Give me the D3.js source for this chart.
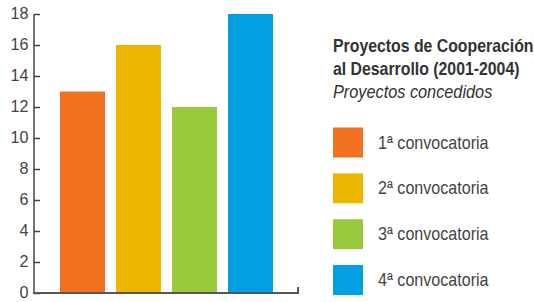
<!DOCTYPE html>
<html><head><meta charset="utf-8">
<script src="https://cdn.jsdelivr.net/npm/d3@7"></script>
<style>
body{margin:0;background:#fff;}
svg{display:block;font-family:"Liberation Sans",Arial,sans-serif;}
</style></head>
<body><svg id="c" width="534" height="302"></svg>
<script>
const categories = ["1ª convocatoria","2ª convocatoria","3ª convocatoria","4ª convocatoria"];
const values = [13,16,12,18];
const colors = ["#F37021","#EBB700","#9ACA3C","#00A0E3"];
const yTicks = [0,2,4,6,8,10,12,14,16,18];
const titleLines = ["Proyectos de Cooperación","al Desarrollo (2001-2004)"];
const subtitle = "Proyectos concedidos";

const svg = d3.select("#c");
const y = d3.scaleLinear().domain([0,18]).range([293,14]);
const x = d3.scaleBand().domain(categories).range([54.5,278.5]).paddingInner(11/56).paddingOuter(11/112);

svg.selectAll("rect.bar").data(values).join("rect")
  .attr("class","bar")
  .attr("x",(d,i)=>x(categories[i]))
  .attr("width",x.bandwidth())
  .attr("y",d=>y(d))
  .attr("height",d=>y(0)-y(d))
  .attr("fill",(d,i)=>colors[i]);

// y axis
const yAxis = svg.append("g").attr("transform","translate(34,0)")
  .call(d3.axisRight(y).tickValues(yTicks).tickSize(6).tickFormat(""));
yAxis.select(".domain").attr("stroke","#444").attr("stroke-width",1.5).attr("d","M0,"+y(18)+"V"+y(0));
yAxis.selectAll(".tick line").attr("stroke","#444").attr("stroke-width",1.5);
svg.append("g").selectAll("text").data(yTicks).join("text")
  .attr("text-anchor","end")
  .attr("font-size",17).attr("fill","#444")
  .attr("transform",d=>"translate(28.5,"+(y(d)+5.3)+") scale(0.95,1)")
  .text(d=>d);

// x axis line
svg.append("path").attr("d","M33,293H298V287").attr("fill","none").attr("stroke","#555").attr("stroke-width",2);

// legend title
const lg = svg.append("g");
const titleY = [52,74.5];
lg.selectAll("text.t").data(titleLines).join("text").attr("class","t")
  .attr("transform",(d,i)=>"translate(333,"+titleY[i]+") scale(0.88,1)")
  .attr("font-size",18).attr("font-weight","bold").attr("fill","#333")
  .text(d=>d);
lg.append("text").attr("transform","translate(333,98) scale(0.905,1)")
  .attr("font-size",18).attr("font-style","italic").attr("fill","#333").text(subtitle);

const ly = d3.scaleLinear().domain([0,3]).range([127.5,265]);
lg.selectAll("rect").data(categories).join("rect")
  .attr("x",333).attr("y",(d,i)=>ly(i)).attr("width",30).attr("height",30)
  .attr("fill",(d,i)=>colors[i]);
lg.selectAll("text.l").data(categories).join("text").attr("class","l")
  .attr("transform",(d,i)=>"translate(378,"+(ly(i)+21)+") scale(0.92,1)")
  .attr("font-size",17.5).attr("fill","#444")
  .text(d=>d);
</script></body></html>
